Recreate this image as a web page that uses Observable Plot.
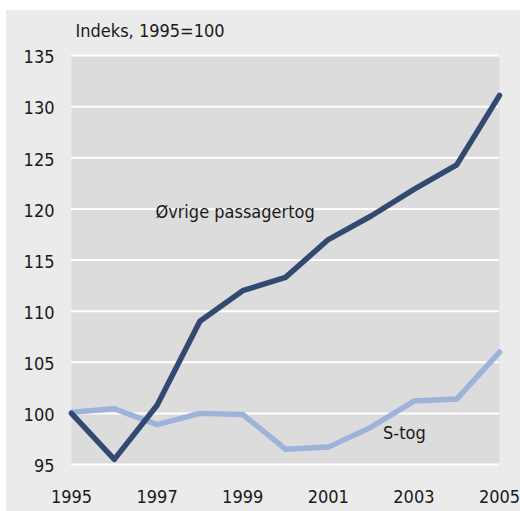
<!DOCTYPE html>
<html><head><meta charset="utf-8">
<script src="https://cdn.jsdelivr.net/npm/d3@7"></script>
<script src="https://cdn.jsdelivr.net/npm/@observablehq/plot@0.6"></script>
<style>
body{margin:0;background:#fff;}
#chart{position:absolute;left:6px;top:10px;width:514px;height:501px;background:#ebebeb;}
</style></head><body><div id="chart"></div>
<script>
const years = [1995, 1996, 1997, 1998, 1999, 2000, 2001, 2002, 2003, 2004, 2005];
const ovrige = [100, 95.5, 100.8, 109.0, 112.0, 113.3, 117.0, 119.3, 121.9, 124.3, 131.1];
const stog = [100.1, 100.45, 98.9, 100.0, 99.9, 96.5, 96.7, 98.65, 101.2, 101.4, 106.0];
const xTicks = [1995, 1997, 1999, 2001, 2003, 2005];
const yTicks = [95, 100, 105, 110, 115, 120, 125, 130, 135];
const seriesLabels = ["Øvrige passagertog", "S-tog"];
const labelX = [1996.96, 2002.28];
const labelY = [119.13, 97.51];
const titleText = "Indeks, 1995=100";

const dOvrige = years.map((y, i) => ({year: y, value: ovrige[i]}));
const dStog = years.map((y, i) => ({year: y, value: stog[i]}));
const dLabels = seriesLabels.map((t, i) => ({text: t, x: labelX[i], y: labelY[i]}));

const font = "'DejaVu Sans Condensed', 'DejaVu Sans', sans-serif";

const chart = Plot.plot({
  width: 514,
  height: 501,
  marginLeft: 65,
  marginRight: 21,
  marginTop: 45,
  marginBottom: 47,
  style: {fontFamily: font, fontStretch: "condensed", fontSize: "18px", color: "#1a1a1a", background: "transparent", overflow: "visible"},
  x: {domain: [1995, 2005], ticks: xTicks, tickFormat: d => String(d), tickSize: 0, tickPadding: 26, label: null},
  y: {domain: [95, 135], ticks: yTicks, tickSize: 0, tickPadding: 17, label: null},
  marks: [
    Plot.frame({fill: "#dcdcdc", stroke: null}),
    Plot.ruleY(yTicks, {stroke: "white", strokeWidth: 2}),
    Plot.axisY({ticks: yTicks, tickSize: 0, tickPadding: 17, dy: 2, label: null}),
    Plot.axisX({ticks: xTicks, tickFormat: d => String(d), tickSize: 0, tickPadding: 26, label: null}),
    Plot.line(dStog, {x: "year", y: "value", stroke: "#9fb3da", strokeWidth: 5.5}),
    Plot.line(dOvrige, {x: "year", y: "value", stroke: "#334a70", strokeWidth: 5.5}),
    Plot.text(dLabels, {x: "x", y: "y", text: "text", textAnchor: "start", lineAnchor: "bottom", fill: "#1a1a1a"}),
    Plot.text([titleText], {frameAnchor: "top-left", dx: 4, dy: -19, lineAnchor: "bottom", textAnchor: "start", fill: "#1a1a1a"})
  ]
});
document.getElementById("chart").appendChild(chart);
</script></body></html>
